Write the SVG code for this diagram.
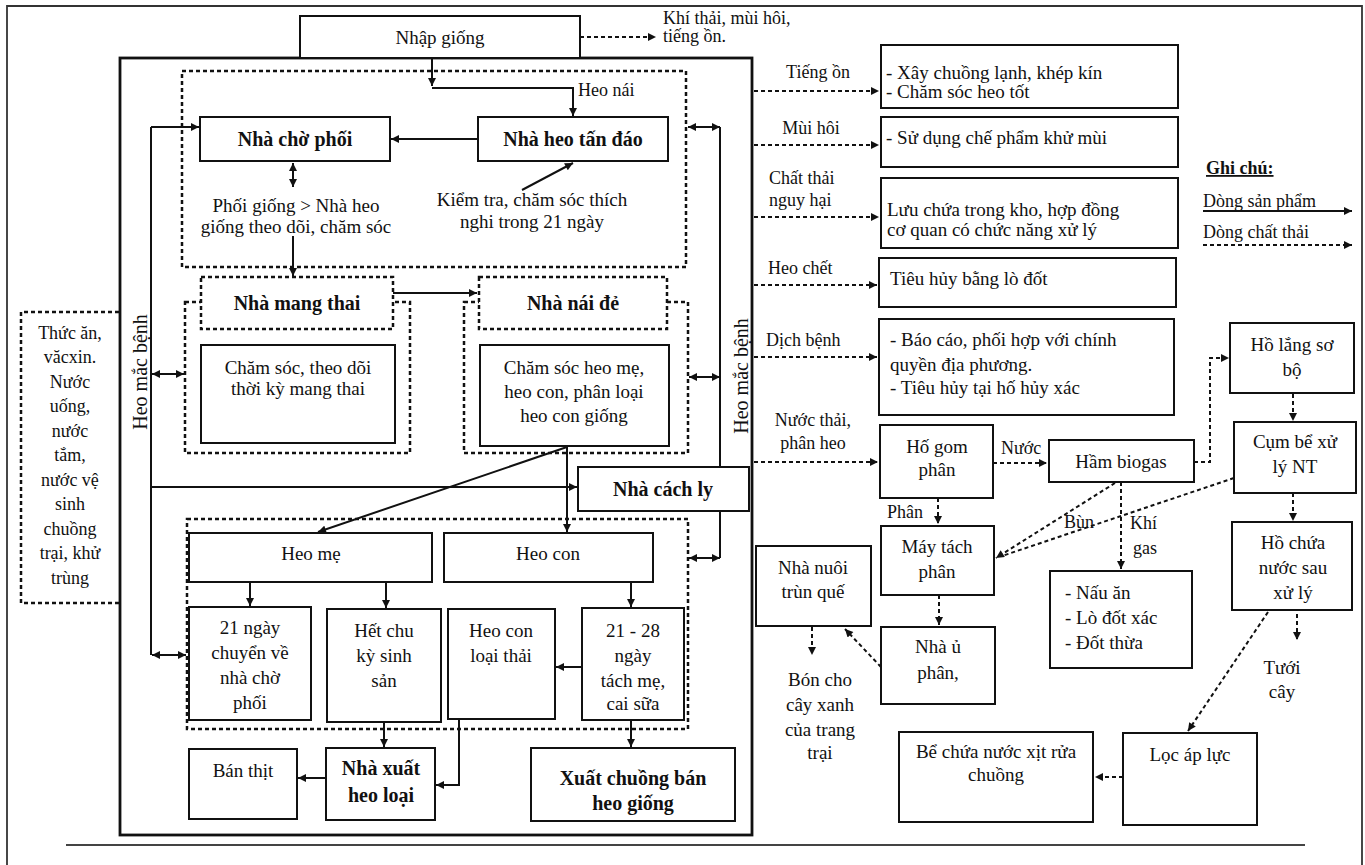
<svg xmlns="http://www.w3.org/2000/svg" width="1365" height="865" viewBox="0 0 1365 865">
<defs>
<style>
.t{font-family:"Liberation Serif","Times New Roman",serif;font-size:19px;fill:#111;text-anchor:middle}
.s{font-size:18px}
.v{font-size:20px}
.b{font-weight:bold;font-size:20px}
.l{text-anchor:start}
.box{fill:#fff;stroke:#111;stroke-width:2}
.dbox{fill:#fff;stroke:#111;stroke-width:2.5;stroke-dasharray:4 3}
.dreg{fill:none;stroke:#111;stroke-width:2.5;stroke-dasharray:4 3}
.ln{fill:none;stroke:#111;stroke-width:2}
.dl{fill:none;stroke:#111;stroke-width:2;stroke-dasharray:4 3}
</style>
<marker id="a" viewBox="0 0 10 10" refX="10" refY="5" markerWidth="9" markerHeight="8" markerUnits="userSpaceOnUse" orient="auto-start-reverse">
<path d="M0,0 L10,5 L0,10 z" fill="#111"/>
</marker>
</defs>
<rect width="1365" height="865" fill="#fff"/>
<path d="M7,865 V6 H1362 V865" fill="none" stroke="#333" stroke-width="1.8"/>
<path d="M66,845 H1305" fill="none" stroke="#444" stroke-width="2"/>

<g id="main-frame"><rect x="120" y="58" width="632" height="777" fill="none" stroke="#111" stroke-width="2.8"/></g>

<g id="regions">
<rect class="dreg" x="182" y="71" width="504" height="196"/>
<rect class="dreg" x="185" y="302" width="225" height="151"/>
<rect class="dreg" x="464" y="302" width="224" height="151"/>
<rect class="dreg" x="187" y="519" width="501" height="210"/>
<path class="dreg" d="M119,312 H21 V603 H120"/>
</g>

<g id="connectors">
<path class="ln" d="M432,58 V86" marker-end="url(#a)"/>
<path class="ln" d="M432,88 H573 V116" marker-end="url(#a)"/>
<path class="ln" d="M478,139 H391" marker-end="url(#a)"/>
<path class="ln" d="M522,190 L573,163" marker-end="url(#a)"/>
<path class="ln" d="M293,163 V187" marker-start="url(#a)" marker-end="url(#a)"/>
<path class="ln" d="M293,236 V276" marker-end="url(#a)"/>
<path class="ln" d="M393,293 H477" marker-end="url(#a)"/>
<path class="ln" d="M151,127 V655"/>
<path class="ln" d="M151,127 H199" marker-end="url(#a)"/>
<path class="ln" d="M152,374 H184" marker-start="url(#a)" marker-end="url(#a)"/>
<path class="ln" d="M151,487 H577" marker-end="url(#a)"/>
<path class="ln" d="M152,655 H186" marker-start="url(#a)" marker-end="url(#a)"/>
<path class="ln" d="M720,127 V558"/>
<path class="ln" d="M688,127 H720" marker-start="url(#a)" marker-end="url(#a)"/>
<path class="ln" d="M689,377 H720" marker-start="url(#a)" marker-end="url(#a)"/>
<path class="ln" d="M689,558 H720" marker-start="url(#a)" marker-end="url(#a)"/>
<path class="ln" d="M567,446 V532" marker-end="url(#a)"/>
<path class="ln" d="M567,447 L318,532" marker-end="url(#a)"/>
<path class="ln" d="M250,582 V606" marker-end="url(#a)"/>
<path class="ln" d="M386,582 V608" marker-end="url(#a)"/>
<path class="ln" d="M631,582 V607" marker-end="url(#a)"/>
<path class="ln" d="M582,667 H556" marker-end="url(#a)"/>
<path class="ln" d="M384,722 V747" marker-end="url(#a)"/>
<path class="ln" d="M459,719 V785 H436" marker-end="url(#a)"/>
<path class="ln" d="M631,720 V747" marker-end="url(#a)"/>
<path class="ln" d="M326,778 H298" marker-end="url(#a)"/>

<path class="dl" d="M580,37 H656" marker-end="url(#a)"/>
<path class="dl" d="M754,91 H879" marker-end="url(#a)"/>
<path class="dl" d="M754,145 H879" marker-end="url(#a)"/>
<path class="dl" d="M754,217 H879" marker-end="url(#a)"/>
<path class="dl" d="M754,285 H877" marker-end="url(#a)"/>
<path class="dl" d="M754,357 H877" marker-end="url(#a)"/>
<path class="dl" d="M754,462 H878" marker-end="url(#a)"/>
<path class="dl" d="M993,463 H1047" marker-end="url(#a)"/>
<path class="dl" d="M1194,462 H1210 V358 H1229" marker-end="url(#a)"/>
<path class="dl" d="M1293,394 V421" marker-end="url(#a)"/>
<path class="dl" d="M1293,493 V521" marker-end="url(#a)"/>
<path class="dl" d="M1297,614 V640" marker-end="url(#a)"/>
<path class="dl" d="M1268,612 L1188,731" marker-end="url(#a)"/>
<path class="dl" d="M1123,777 H1095" marker-end="url(#a)"/>
<path class="dl" d="M1115,483 L996,558" marker-end="url(#a)"/>
<path class="dl" d="M1234,478 L1002,556"/>
<path class="dl" d="M1121,482 V569" marker-end="url(#a)"/>
<path class="dl" d="M938,498 V524" marker-end="url(#a)"/>
<path class="dl" d="M939,595 V625" marker-end="url(#a)"/>
<path class="dl" d="M881,667 L845,629" marker-end="url(#a)"/>
<path class="dl" d="M812,627 V655" marker-end="url(#a)"/>
<path class="ln" d="M1203,211 H1352" marker-end="url(#a)"/>
<path class="dl" d="M1203,245 H1352" marker-end="url(#a)"/>
</g>

<g id="nhap-giong"><rect class="box" x="300" y="16" width="280" height="42"/><text class="t" x="440" y="44">Nhập giống</text></g>
<g id="khi-thai"><text class="t s l" x="663" y="24">Khí thải, mùi hôi,</text><text class="t s l" x="663" y="42">tiếng ồn.</text></g>
<g id="heo-nai-lbl"><text class="t s l" x="578" y="96">Heo nái</text></g>

<g id="nha-cho-phoi"><rect class="box" x="200" y="117" width="190" height="44"/><text class="t b" x="295" y="146">Nhà chờ phối</text></g>
<g id="nha-heo-tan-dao"><rect class="box" x="478" y="117" width="190" height="44"/><text class="t b" x="573" y="146">Nhà heo tấn đáo</text></g>
<g id="kiem-tra"><text class="t" x="532" y="206">Kiểm tra, chăm sóc thích</text><text class="t" x="532" y="228">nghi trong 21 ngày</text></g>
<g id="phoi-giong"><text class="t" x="296" y="212">Phối giống &gt; Nhà heo</text><text class="t" x="296" y="233">giống theo dõi, chăm sóc</text></g>

<g id="nha-mang-thai"><rect class="dbox" x="201" y="277" width="192" height="52"/><text class="t b" x="297" y="310">Nhà mang thai</text></g>
<g id="cham-soc-mang-thai"><rect class="box" x="201" y="345" width="194" height="98"/><text class="t" x="298" y="374">Chăm sóc, theo dõi</text><text class="t" x="298" y="395">thời kỳ mang thai</text></g>
<g id="nha-nai-de"><rect class="dbox" x="479" y="277" width="188" height="52"/><text class="t b" x="573" y="310">Nhà nái đẻ</text></g>
<g id="cham-soc-heo-me"><rect class="box" x="480" y="345" width="189" height="101"/><text class="t" x="574" y="374">Chăm sóc heo mẹ,</text><text class="t" x="574" y="398">heo con, phân loại</text><text class="t" x="574" y="422">heo con giống</text></g>

<g id="heo-mac-benh-l"><text class="t v" transform="translate(147,372) rotate(-90)">Heo mắc bệnh</text></g>
<g id="heo-mac-benh-r"><text class="t v" transform="translate(748,376) rotate(-90)">Heo mắc bệnh</text></g>

<g id="nha-cach-ly"><rect class="box" x="578" y="467" width="171" height="44"/><text class="t b" x="663" y="496">Nhà cách ly</text></g>

<g id="heo-me"><rect class="box" x="189" y="533" width="243" height="49"/><text class="t" x="311" y="560">Heo mẹ</text></g>
<g id="heo-con"><rect class="box" x="444" y="533" width="209" height="49"/><text class="t" x="548" y="560">Heo con</text></g>
<g id="ngay21"><rect class="box" x="189" y="607" width="122" height="113"/><text class="t" x="250" y="634">21 ngày</text><text class="t" x="250" y="659">chuyển về</text><text class="t" x="250" y="684">nhà chờ</text><text class="t" x="250" y="709">phối</text></g>
<g id="het-chu-ky"><rect class="box" x="327" y="609" width="114" height="113"/><text class="t" x="384" y="637">Hết chu</text><text class="t" x="384" y="662">kỳ sinh</text><text class="t" x="384" y="687">sản</text></g>
<g id="heo-con-loai-thai"><rect class="box" x="448" y="609" width="107" height="110"/><text class="t" x="501" y="637">Heo con</text><text class="t" x="501" y="662">loại thải</text></g>
<g id="ngay21-28"><rect class="box" x="582" y="608" width="102" height="112"/><text class="t" x="633" y="637">21 - 28</text><text class="t" x="633" y="662">ngày</text><text class="t" x="633" y="687">tách mẹ,</text><text class="t" x="633" y="710">cai sữa</text></g>

<g id="ban-thit"><rect class="box" x="189" y="749" width="108" height="70"/><text class="t" x="243" y="777">Bán thịt</text></g>
<g id="nha-xuat-heo-loai"><rect class="box" x="326" y="748" width="109" height="72"/><text class="t b" x="381" y="775">Nhà xuất</text><text class="t b" x="381" y="802">heo loại</text></g>
<g id="xuat-chuong"><rect class="box" x="531" y="748" width="204" height="73"/><text class="t b" x="633" y="785">Xuất chuồng bán</text><text class="t b" x="633" y="810">heo giống</text></g>

<g id="thuc-an">
<text class="t s" x="70" y="339">Thức ăn,</text><text class="t s" x="70" y="363">văcxin.</text><text class="t s" x="70" y="388">Nước</text><text class="t s" x="70" y="412">uống,</text><text class="t s" x="70" y="437">nước</text><text class="t s" x="70" y="461">tắm,</text><text class="t s" x="70" y="486">nước vệ</text><text class="t s" x="70" y="510">sinh</text><text class="t s" x="70" y="535">chuồng</text><text class="t s" x="70" y="559">trại, khử</text><text class="t s" x="70" y="584">trùng</text>
</g>

<g id="lbl-right">
<text class="t s" x="818" y="78">Tiếng ồn</text>
<text class="t s" x="811" y="134">Mùi hôi</text>
<text class="t s l" x="769" y="184">Chất thải</text><text class="t s l" x="769" y="206">nguy hại</text>
<text class="t s l" x="768" y="274">Heo chết</text>
<text class="t s l" x="766" y="346">Dịch bệnh</text>
<text class="t s" x="813" y="426">Nước thải,</text><text class="t s" x="813" y="449">phân heo</text>
</g>

<g id="xay-chuong"><rect class="box" x="881" y="45" width="297" height="63"/><text class="t l" x="886" y="79">- Xây chuồng lạnh, khép kín</text><text class="t l" x="886" y="98">- Chăm sóc heo tốt</text></g>
<g id="khu-mui"><rect class="box" x="881" y="117" width="297" height="50"/><text class="t l" x="886" y="144">- Sử dụng chế phẩm khử mùi</text></g>
<g id="luu-chua"><rect class="box" x="881" y="178" width="297" height="70"/><text class="t l" x="887" y="216">Lưu chứa trong kho, hợp đồng</text><text class="t l" x="887" y="236">cơ  quan có chức năng  xử lý</text></g>
<g id="tieu-huy"><rect class="box" x="879" y="258" width="297" height="49"/><text class="t l" x="890" y="285">Tiêu hủy bằng lò đốt</text></g>
<g id="bao-cao"><rect class="box" x="879" y="319" width="295" height="96"/><text class="t l" x="890" y="346">- Báo cáo, phối hợp với chính</text><text class="t l" x="890" y="371">quyền địa phương.</text><text class="t l" x="890" y="394">- Tiêu hủy tại hố hủy xác</text></g>

<g id="ghi-chu">
<text class="t s l" x="1206" y="174" font-weight="bold" text-decoration="underline">Ghi chú:</text>
<text class="t s l" x="1203" y="207">Dòng sản phẩm</text>
<text class="t s l" x="1203" y="238">Dòng chất thải</text>
</g>

<g id="ho-gom"><rect class="box" x="880" y="425" width="113" height="73"/><text class="t" x="937" y="453">Hố gom</text><text class="t" x="937" y="476">phân</text></g>
<g id="lbl-flow"><text class="t s l" x="1001" y="454">Nước</text><text class="t s l" x="887" y="518">Phân</text><text class="t s" x="1079" y="528">Bùn</text><text class="t s l" x="1130" y="529">Khí</text><text class="t s l" x="1133" y="554">gas</text></g>
<g id="ham-biogas"><rect class="box" x="1049" y="440" width="145" height="42"/><text class="t" x="1121" y="468">Hầm biogas</text></g>
<g id="ho-lang"><rect class="box" x="1230" y="323" width="124" height="70"/><text class="t" x="1292" y="351">Hồ lắng sơ</text><text class="t" x="1292" y="376">bộ</text></g>
<g id="cum-be"><rect class="box" x="1234" y="422" width="122" height="71"/><text class="t" x="1295" y="448">Cụm bể xử</text><text class="t" x="1295" y="473">lý NT</text></g>
<g id="ho-chua"><rect class="box" x="1232" y="522" width="120" height="88"/><text class="t" x="1293" y="549">Hồ chứa</text><text class="t" x="1293" y="574">nước sau</text><text class="t" x="1293" y="599">xử lý</text></g>
<g id="tuoi-cay"><text class="t" x="1282" y="674">Tưới</text><text class="t" x="1282" y="698">cây</text></g>
<g id="loc-ap-luc"><rect class="box" x="1123" y="733" width="134" height="92"/><text class="t" x="1190" y="761">Lọc áp lực</text></g>
<g id="be-chua"><rect class="box" x="899" y="732" width="194" height="90"/><text class="t" x="996" y="758">Bể chứa nước xịt rửa</text><text class="t" x="996" y="781">chuồng</text></g>
<g id="may-tach"><rect class="box" x="881" y="526" width="113" height="69"/><text class="t" x="937" y="553">Máy tách</text><text class="t" x="937" y="578">phân</text></g>
<g id="nha-u"><rect class="box" x="881" y="627" width="114" height="77"/><text class="t" x="938" y="653">Nhà ủ</text><text class="t" x="938" y="679">phân,</text></g>
<g id="trun-que"><rect class="box" x="756" y="546" width="115" height="80"/><text class="t" x="813" y="574">Nhà nuôi</text><text class="t" x="813" y="598">trùn quế</text></g>
<g id="bon-cho"><text class="t" x="820" y="686">Bón cho</text><text class="t" x="820" y="711">cây xanh</text><text class="t" x="820" y="736">của trang</text><text class="t" x="820" y="759">trại</text></g>
<g id="nau-an"><rect class="box" x="1050" y="571" width="142" height="97"/><text class="t l" x="1065" y="599">- Nấu ăn</text><text class="t l" x="1065" y="624">- Lò đốt  xác</text><text class="t l" x="1065" y="649">- Đốt thừa</text></g>
</svg>
